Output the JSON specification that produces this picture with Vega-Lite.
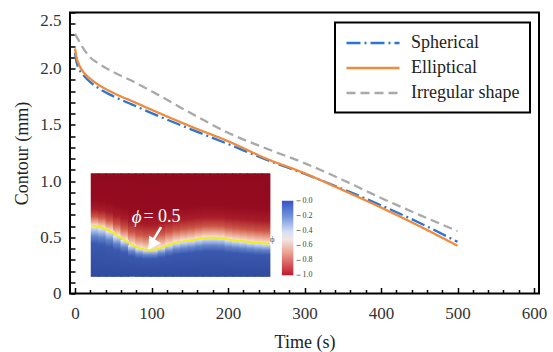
{
  "$schema": "https://vega.github.io/schema/vega-lite/v6.json",
  "width": 469,
  "height": 281,
  "autosize": {"type": "none"},
  "padding": {"left": 70, "top": 12.5, "right": 14, "bottom": 58.5},
  "background": "white",
  "config": {
    "view": {"stroke": "black", "strokeWidth": 2},
    "font": "Liberation Serif",
    "text": {"font": "Liberation Serif"},
    "axis": {
      "domain": false,
      "grid": false,
      "tickColor": "black",
      "tickWidth": 1.5,
      "labelFont": "Liberation Serif",
      "labelFontSize": 17,
      "labelColor": "#333333",
      "titleFont": "Liberation Serif",
      "titleFontSize": 18,
      "titleFontWeight": "normal",
      "titleColor": "#222222",
      "labelOverlap": false,
      "labelFlush": false
    }
  },
  "datasets": {
    "series": [
      {"t": 0, "v": 2.14, "s": "Spherical"},
      {"t": 2, "v": 2.06, "s": "Spherical"},
      {"t": 5, "v": 2.0, "s": "Spherical"},
      {"t": 10, "v": 1.95, "s": "Spherical"},
      {"t": 20, "v": 1.88, "s": "Spherical"},
      {"t": 30, "v": 1.83, "s": "Spherical"},
      {"t": 50, "v": 1.755, "s": "Spherical"},
      {"t": 75, "v": 1.68, "s": "Spherical"},
      {"t": 100, "v": 1.605, "s": "Spherical"},
      {"t": 150, "v": 1.465, "s": "Spherical"},
      {"t": 200, "v": 1.33, "s": "Spherical"},
      {"t": 250, "v": 1.19, "s": "Spherical"},
      {"t": 300, "v": 1.065, "s": "Spherical"},
      {"t": 350, "v": 0.93, "s": "Spherical"},
      {"t": 400, "v": 0.785, "s": "Spherical"},
      {"t": 450, "v": 0.63, "s": "Spherical"},
      {"t": 500, "v": 0.46, "s": "Spherical"},
      {"t": 0, "v": 2.18, "s": "Elliptical"},
      {"t": 2, "v": 2.1, "s": "Elliptical"},
      {"t": 5, "v": 2.04, "s": "Elliptical"},
      {"t": 10, "v": 1.98, "s": "Elliptical"},
      {"t": 20, "v": 1.91, "s": "Elliptical"},
      {"t": 30, "v": 1.86, "s": "Elliptical"},
      {"t": 50, "v": 1.785, "s": "Elliptical"},
      {"t": 75, "v": 1.71, "s": "Elliptical"},
      {"t": 100, "v": 1.635, "s": "Elliptical"},
      {"t": 150, "v": 1.49, "s": "Elliptical"},
      {"t": 200, "v": 1.355, "s": "Elliptical"},
      {"t": 250, "v": 1.2, "s": "Elliptical"},
      {"t": 300, "v": 1.07, "s": "Elliptical"},
      {"t": 350, "v": 0.92, "s": "Elliptical"},
      {"t": 400, "v": 0.765, "s": "Elliptical"},
      {"t": 450, "v": 0.6, "s": "Elliptical"},
      {"t": 500, "v": 0.425, "s": "Elliptical"},
      {"t": 0, "v": 2.31, "s": "Irregular shape"},
      {"t": 5, "v": 2.25, "s": "Irregular shape"},
      {"t": 10, "v": 2.19, "s": "Irregular shape"},
      {"t": 20, "v": 2.1, "s": "Irregular shape"},
      {"t": 30, "v": 2.05, "s": "Irregular shape"},
      {"t": 50, "v": 1.97, "s": "Irregular shape"},
      {"t": 75, "v": 1.89, "s": "Irregular shape"},
      {"t": 100, "v": 1.8, "s": "Irregular shape"},
      {"t": 150, "v": 1.61, "s": "Irregular shape"},
      {"t": 200, "v": 1.43, "s": "Irregular shape"},
      {"t": 250, "v": 1.29, "s": "Irregular shape"},
      {"t": 300, "v": 1.16, "s": "Irregular shape"},
      {"t": 350, "v": 1.01, "s": "Irregular shape"},
      {"t": 400, "v": 0.85, "s": "Irregular shape"},
      {"t": 450, "v": 0.7, "s": "Irregular shape"},
      {"t": 500, "v": 0.555, "s": "Irregular shape"}
    ],
    "contour": [
      {"t": 21.3, "v": 0.606, "k": "edge"},
      {"t": 26.2, "v": 0.6, "k": "col"},
      {"t": 35.9, "v": 0.585, "k": "col"},
      {"t": 45.6, "v": 0.556, "k": "col"},
      {"t": 55.3, "v": 0.515, "k": "col"},
      {"t": 65.0, "v": 0.475, "k": "col"},
      {"t": 74.8, "v": 0.43, "k": "col"},
      {"t": 84.5, "v": 0.402, "k": "col"},
      {"t": 94.2, "v": 0.39, "k": "col"},
      {"t": 103.9, "v": 0.392, "k": "col"},
      {"t": 113.7, "v": 0.41, "k": "col"},
      {"t": 123.4, "v": 0.434, "k": "col"},
      {"t": 133.1, "v": 0.455, "k": "col"},
      {"t": 142.8, "v": 0.466, "k": "col"},
      {"t": 152.6, "v": 0.475, "k": "col"},
      {"t": 162.3, "v": 0.487, "k": "col"},
      {"t": 172.0, "v": 0.496, "k": "col"},
      {"t": 181.7, "v": 0.497, "k": "col"},
      {"t": 191.4, "v": 0.494, "k": "col"},
      {"t": 201.2, "v": 0.48, "k": "col"},
      {"t": 210.9, "v": 0.472, "k": "col"},
      {"t": 220.6, "v": 0.464, "k": "col"},
      {"t": 230.3, "v": 0.456, "k": "col"},
      {"t": 240.1, "v": 0.449, "k": "col"},
      {"t": 249.8, "v": 0.444, "k": "col"},
      {"t": 254.7, "v": 0.443, "k": "edge"}
    ],
    "cbar": [
      {"v": 0.825, "lab": "0.0", "ta": 289.7, "tb": 294.8, "tl": 297.4},
      {"v": 0.693, "lab": "0.2", "ta": 289.7, "tb": 294.8, "tl": 297.4},
      {"v": 0.56, "lab": "0.4", "ta": 289.7, "tb": 294.8, "tl": 297.4},
      {"v": 0.428, "lab": "0.6", "ta": 289.7, "tb": 294.8, "tl": 297.4},
      {"v": 0.295, "lab": "0.8", "ta": 289.7, "tb": 294.8, "tl": 297.4},
      {"v": 0.163, "lab": "1.0", "ta": 289.7, "tb": 294.8, "tl": 297.4}
    ]
  },
  "encoding": {
    "x": {
      "field": "t",
      "type": "quantitative",
      "title": "Time (s)",
      "scale": {"domain": [0, 600], "nice": false, "zero": false},
      "axis": {
        "values": [0, 20, 40, 60, 80, 100, 120, 140, 160, 180, 200, 220, 240, 260, 280, 300, 320, 340, 360, 380, 400, 420, 440, 460, 480, 500, 520, 540, 560, 580, 600],
        "labelExpr": "datum.value % 100 === 0 ? datum.label : ''",
        "tickSize": {"condition": {"test": "datum.value % 100 === 0", "value": -6}, "value": -4},
        "labelPadding": 18,
        "titlePadding": 10
      }
    },
    "y": {
      "field": "v",
      "type": "quantitative",
      "title": "Contour (mm)",
      "scale": {"domain": [0, 2.5], "nice": false, "zero": false},
      "axis": {
        "values": [0, 0.1, 0.2, 0.3, 0.4, 0.5, 0.6, 0.7, 0.8, 0.9, 1, 1.1, 1.2, 1.3, 1.4, 1.5, 1.6, 1.7, 1.8, 1.9, 2, 2.1, 2.2, 2.3, 2.4, 2.5],
        "labelExpr": "round(datum.value * 10) % 5 === 0 ? (datum.value === 0 ? '0' : format(datum.value, '.1f')) : ''",
        "labelBaseline": {"condition": {"test": "datum.value >= 2.45", "value": "top"}, "value": "middle"},
        "tickSize": -5,
        "labelPadding": 14,
        "titlePadding": 8
      }
    }
  },
  "layer": [
    {
      "data": {"name": "contour"},
      "transform": [{"filter": "datum.k == 'col'"}],
      "mark": {
        "type": "bar",
        "width": 8.6,
        "color": {
          "gradient": "linear", "x1": 0, "y1": 0, "x2": 0, "y2": 1,
          "stops": [
            {"offset": 0, "color": "#900a1e"},
            {"offset": 0.5, "color": "#950b20"},
            {"offset": 0.68, "color": "#a81c29"},
            {"offset": 0.82, "color": "#cc5646"},
            {"offset": 0.93, "color": "#eeb09a"},
            {"offset": 1, "color": "#f6ebe4"}
          ]
        }
      },
      "encoding": {"y2": {"datum": 1.07}}
    },
    {
      "data": {"name": "contour"},
      "transform": [{"filter": "datum.k == 'col'"}],
      "mark": {
        "type": "bar",
        "width": 8.6,
        "color": {
          "gradient": "linear", "x1": 0, "y1": 0, "x2": 0, "y2": 1,
          "stops": [
            {"offset": 0, "color": "#e6edf8"},
            {"offset": 0.08, "color": "#b3c5ea"},
            {"offset": 0.2, "color": "#6383cb"},
            {"offset": 0.35, "color": "#3a58ad"},
            {"offset": 1, "color": "#2f4a9f"}
          ]
        }
      },
      "encoding": {"y2": {"datum": 0.148}}
    },
    {
      "data": {"name": "contour"},
      "mark": {"type": "line", "color": "#f2ee1a", "strokeWidth": 2, "interpolate": "monotone"},
      "encoding": {}
    },
    {
      "data": {"values": [{"t": 270.5, "t2": 285.4, "v": 0.163, "v2": 0.825}]},
      "mark": {
        "type": "rect",
        "color": {
          "gradient": "linear", "x1": 0, "y1": 0, "x2": 0, "y2": 1,
          "stops": [
            {"offset": 0, "color": "#3553c4"},
            {"offset": 0.2, "color": "#6f8fdc"},
            {"offset": 0.42, "color": "#d6e0f4"},
            {"offset": 0.52, "color": "#f2e6e0"},
            {"offset": 0.7, "color": "#eba090"},
            {"offset": 1, "color": "#c2182e"}
          ]
        }
      },
      "encoding": {"x2": {"field": "t2"}, "y2": {"field": "v2"}}
    },
    {
      "data": {"name": "cbar"},
      "mark": {"type": "rule", "color": "#777777", "strokeWidth": 1},
      "encoding": {"x": {"field": "ta", "type": "quantitative"}, "x2": {"field": "tb"}}
    },
    {
      "data": {"name": "cbar"},
      "mark": {"type": "text", "align": "left", "baseline": "middle", "fontSize": 8, "color": "#444444"},
      "encoding": {"x": {"field": "tl", "type": "quantitative"}, "text": {"field": "lab"}}
    },
    {
      "data": {"values": [{"t": 258.1, "v": 0.484, "lab": "ϕ"}]},
      "mark": {"type": "text", "align": "center", "baseline": "middle", "fontSize": 9, "color": "#555555"},
      "encoding": {"text": {"field": "lab"}}
    },
    {
      "data": {"values": [{"t": 80.5, "v": 0.683, "lab": "ϕ"}]},
      "mark": {"type": "text", "align": "center", "baseline": "middle", "fontSize": 19, "fontStyle": "italic", "color": "white"},
      "encoding": {"text": {"field": "lab"}}
    },
    {
      "data": {"values": [{"t": 89.5, "v": 0.683, "lab": "= 0.5"}]},
      "mark": {"type": "text", "align": "left", "baseline": "middle", "fontSize": 18, "color": "white"},
      "encoding": {"text": {"field": "lab"}}
    },
    {
      "data": {"values": [{"t": 112.5, "v": 0.591, "t2": 102.2, "v2": 0.475}]},
      "mark": {"type": "rule", "color": "white", "strokeWidth": 2.5},
      "encoding": {"x2": {"field": "t2"}, "y2": {"field": "v2"}}
    },
    {
      "data": {"values": [{"t": 100.3, "v": 0.435}]},
      "mark": {"type": "point", "shape": "triangle-up", "angle": 213, "size": 200, "filled": true, "color": "white", "opacity": 1},
      "encoding": {}
    },
    {
      "data": {"name": "series"},
      "mark": {"type": "line", "strokeWidth": 2.3, "interpolate": "monotone"},
      "encoding": {
        "color": {
          "field": "s",
          "type": "nominal",
          "scale": {"domain": ["Spherical", "Elliptical", "Irregular shape"], "range": ["#2a76d2", "#f08a3c", "#a9a9a9"]},
          "legend": {
            "title": null, "orient": "none", "legendX": 265, "legendY": 10,
            "symbolType": "M-1,0H4.89", "symbolSize": 324, "symbolStrokeWidth": 2.5,
            "labelFontSize": 18, "labelFont": "Liberation Serif", "labelColor": "#222222",
            "labelOffset": 45, "padding": 10, "rowPadding": 5, "strokeColor": "black",
            "encode": {"legend": {"update": {"strokeWidth": {"value": 2}}}}
          }
        },
        "strokeDash": {
          "field": "s",
          "type": "nominal",
          "scale": {"domain": ["Spherical", "Elliptical", "Irregular shape"], "range": [[14, 4, 2, 4], [1, 0], [9, 5]]},
          "legend": {
            "title": null, "orient": "none", "legendX": 265, "legendY": 10,
            "symbolType": "M-1,0H4.89", "symbolSize": 324, "symbolStrokeWidth": 2.5,
            "labelFontSize": 18, "labelFont": "Liberation Serif", "labelColor": "#222222",
            "labelOffset": 45, "padding": 10, "rowPadding": 5, "strokeColor": "black",
            "encode": {"legend": {"update": {"strokeWidth": {"value": 2}}}}
          }
        }
      }
    }
  ]
}
